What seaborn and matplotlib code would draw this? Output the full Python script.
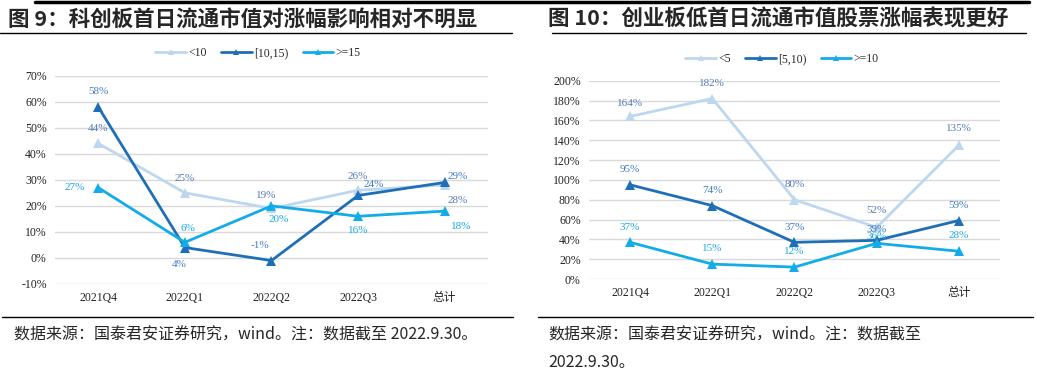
import pandas as pd
import matplotlib.pyplot as plt
import seaborn as sns
from matplotlib.lines import Line2D

# data
quarters = ['2021Q4', '2022Q1', '2022Q2', '2022Q3', '总计']

star_groups = ['<10', '[10,15)', '>=15']
star_lt10 = [44, 25, 19, 26, 28]
star_10_15 = [58, 4, -1, 24, 29]
star_ge15 = [27, 6, 20, 16, 18]

gem_groups = ['<5', '[5,10)', '>=10']
gem_lt5 = [164, 182, 80, 52, 135]
gem_5_10 = [95, 74, 37, 39, 59]
gem_ge10 = [37, 15, 12, 36, 28]

line_colors = ['#BDD7EE', '#1F6FB8', '#12ACE8']
label_colors = ['#5679B8', '#3F7BC8', '#1AA8E6']

sns.set_theme(style='white')
plt.rcParams['font.family'] = ['Liberation Serif', 'Noto Sans CJK SC', 'DejaVu Sans']
cjk = ['Noto Sans CJK SC', 'DejaVu Sans']


def long_form(groups, series):
    rows = []
    for g, vals in zip(groups, series):
        for q, v in zip(quarters, vals):
            rows.append({'quarter': q, 'group': g, 'value': v})
    return pd.DataFrame(rows)


def draw_panel(ax, groups, series, ylim, step, offsets):
    df = long_form(groups, series)
    palette = dict(zip(groups, line_colors))
    sns.lineplot(data=df, x='quarter', y='value', hue='group', palette=palette,
                 marker='^', markersize=7, markeredgewidth=0, linewidth=2,
                 sort=False, legend=False, ax=ax)
    ax.set_xlim(-0.5, len(quarters) - 0.5)
    ax.set_ylim(*ylim)
    ticks = list(range(ylim[0], ylim[1] + 1, step))
    ax.set_yticks(ticks)
    ax.set_yticklabels([f'{t}%' for t in ticks], fontsize=8.5)
    ax.set_xticks(range(len(quarters)))
    ax.set_xticklabels(quarters, fontsize=8.5, family=['Liberation Serif'] + cjk)
    ax.set_xlabel('')
    ax.set_ylabel('')
    ax.grid(axis='y', color='#D9D9D9', linewidth=1)
    ax.grid(axis='x', visible=False)
    for s in ax.spines.values():
        s.set_visible(False)
    ax.tick_params(axis='both', length=0, pad=6, colors='#222222')
    for gi, vals in enumerate(series):
        for qi, v in enumerate(vals):
            dx, dy = offsets[gi][qi]
            ax.annotate(f'{v}%', (qi, v), xytext=(dx, dy), textcoords='offset points',
                        ha='center', va='center', fontsize=8, color=label_colors[gi])
    handles = [Line2D([0], [0], color=c, lw=2, marker='^', markersize=4, markeredgewidth=0)
                for c in line_colors]
    return handles


fig = plt.figure(figsize=(10.37, 3.83), dpi=100)

# left panel
ax1 = fig.add_axes([0.053, 0.2585, 0.4176, 0.5439])
off1 = [
    [(0, 11), (0, 10), (-4, 9), (0, 10), (9, -11)],
    [(0, 11), (-4, -12), (-8, 11), (11, 8), (9, 4)],
    [(-17, 0), (2, 10), (5, -10), (0, -10), (12, -11)],
]
h1 = draw_panel(ax1, star_groups, [star_lt10, star_10_15, star_ge15], (-10, 70), 10, off1)
fig.legend(h1, star_groups, loc='center', bbox_to_anchor=(258 / 1037, 1 - 53 / 383),
           ncol=3, frameon=False, fontsize=8.5, handlelength=2.6, columnspacing=1.2,
           handletextpad=0.2)

# right panel
ax2 = fig.add_axes([0.568, 0.2715, 0.3963, 0.5178])
off2 = [
    [(0, 9), (0, 11), (0, 11), (0, 12), (0, 12)],
    [(0, 11), (0, 11), (0, 11), (0, 8), (0, 11)],
    [(0, 11), (0, 11), (0, 11), (0, 5), (0, 11)],
]
h2 = draw_panel(ax2, gem_groups, [gem_lt5, gem_5_10, gem_ge10], (0, 200), 20, off2)
fig.legend(h2, gem_groups, loc='center', bbox_to_anchor=(782 / 1037, 1 - 59 / 383),
           ncol=3, frameon=False, fontsize=8.5, handlelength=2.6, columnspacing=1.2,
           handletextpad=0.2)


def hline(y, x0, x1, lw):
    fig.add_artist(Line2D([x0 / 1037, x1 / 1037], [1 - y / 383, 1 - y / 383],
                          color='black', linewidth=lw))


# frame lines
hline(2, 35, 1029, 2.5)
hline(33, 0, 512, 1)
hline(33, 552, 1026, 1)
hline(317, 2, 513, 1)
hline(317, 538, 1033, 1)

# titles
fig.text(8 / 1037, 1 - 19 / 383, '图 9：科创板首日流通市值对涨幅影响相对不明显',
         fontsize=15.5, fontweight='bold', family=cjk, va='center', ha='left')
fig.text(548 / 1037, 1 - 19 / 383, '图 10：创业板低首日流通市值股票涨幅表现更好',
         fontsize=15.5, fontweight='bold', family=cjk, va='center', ha='left')

# sources
fig.text(14 / 1037, 1 - 335 / 383, '数据来源：国泰君安证券研究，wind。注：数据截至 2022.9.30。',
         fontsize=11.5, family=cjk, va='center', ha='left')
fig.text(548 / 1037, 1 - 335 / 383, '数据来源：国泰君安证券研究，wind。注：数据截至',
         fontsize=11.5, family=cjk, va='center', ha='left')
fig.text(548 / 1037, 1 - 362 / 383, '2022.9.30。',
         fontsize=11.5, family=cjk, va='center', ha='left')

fig.savefig('out.png', dpi=100, facecolor='white')
